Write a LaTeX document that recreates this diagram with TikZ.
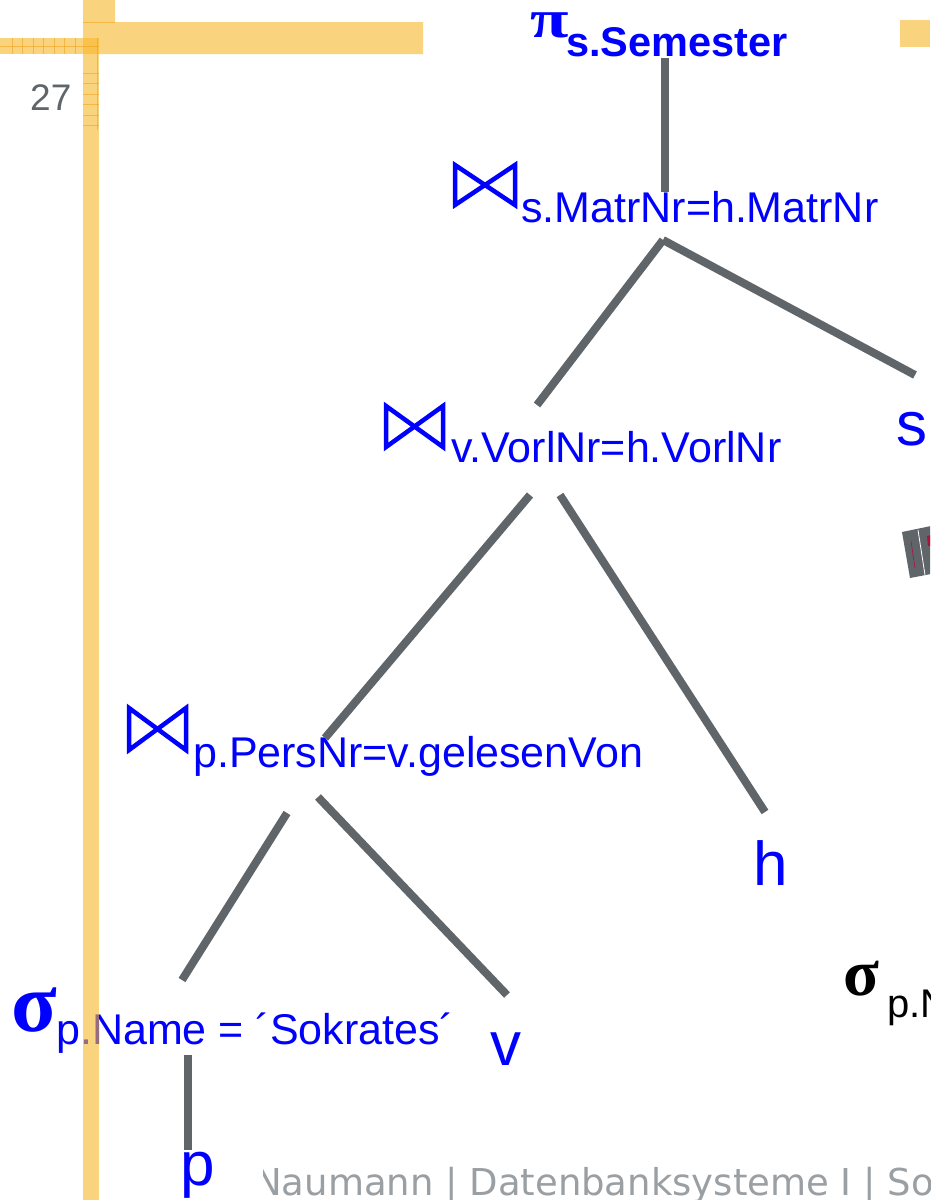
\documentclass[tikz,border=0pt]{standalone}
\usepackage{fontspec}
\setmainfont{Liberation Sans}
\newfontfamily\serifgr{Liberation Serif}
\newfontfamily\footfont{DejaVu Sans}
\definecolor{relblue}{RGB}{0,0,255}
\definecolor{edgegray}{RGB}{95,101,105}
\definecolor{barorange}{RGB}{247,183,43}
\definecolor{gridorange}{RGB}{240,160,20}
\definecolor{footgray}{RGB}{154,159,163}
\definecolor{tilered}{RGB}{170,20,60}
\begin{document}
\begin{tikzpicture}[x=1pt,y=-1pt,
  lbl/.style={inner sep=0pt, anchor=base west, text=relblue},
  sub/.style={lbl, font=\fontsize{43}{50}\selectfont},
  leaf/.style={lbl, font=\fontsize{62}{70}\selectfont},
  edge/.style={draw=edgegray, line width=8pt},
  bowtie/.style={draw=relblue, line width=4.5pt, line join=miter},
  bar/.style={fill=barorange, fill opacity=0.6},
  gridline/.style={draw=gridorange, line width=0.8pt, draw opacity=0.55}]
\useasboundingbox (0,0) rectangle (930,1200);
\clip (0,0) rectangle (930,1200);
\fill[white] (0,0) rectangle (930,1200);

% page number
\node[anchor=base west, inner sep=0pt, text=edgegray, font=\fontsize{37}{40}\selectfont] (pagenum) at (30,110) {27};

% projection
\node[lbl, font=\serifgr\bfseries\fontsize{54}{58}\selectfont] (pi) at (530,37) {\scalebox{1.3}[1]{π}};
\node[lbl, font=\bfseries\fontsize{41.5}{50}\selectfont] (pisub) at (566,56) {s.Semester};

% join 1
\draw[bowtie] (455,165) -- (515,205) -- (515,165) -- (455,205) -- cycle;
\node[sub] (j1) at (521,222) {s.MatrNr=h.MatrNr};
% join 2
\draw[bowtie] (386,406) -- (443,447) -- (443,406) -- (386,447) -- cycle;
\node[sub] (j2) at (451,462) {v.VorlNr=h.VorlNr};
% join 3
\draw[bowtie] (129,708) -- (186,750) -- (186,708) -- (129,750) -- cycle;
\node[sub] (j3) at (193,767) {p.PersNr=v.gelesenVon};

% selection
\node[lbl, font=\serifgr\bfseries\fontsize{84}{90}\selectfont] (sigma) at (11,1031) {σ};
\node[sub] (sel) at (56,1044) {p.Name = ´Sokrates´};

% leaves
\node[leaf] (s) at (896,445) {s};
\node[leaf] (h) at (753,885) {h};
\node[leaf] (v) at (490,1065) {v};
\node[leaf] (p) at (180,1185) {p};

% black sigma at right
\node[lbl, text=black, font=\serifgr\bfseries\fontsize{66}{70}\selectfont] (sigmab) at (843,995) {σ};
\node[lbl, text=black, font=\fontsize{40}{46}\selectfont] (selb) at (887,1017) {p.N};

% connector end points
\coordinate (pibot) at (665,58);
\coordinate (j1top) at (665,192);
\coordinate (j1apex) at (663,240);
\coordinate (j2top) at (537,405);
\coordinate (stop) at (915,375);
\coordinate (j2l) at (530,495);
\coordinate (j3top) at (325,738);
\coordinate (j2r) at (560,495);
\coordinate (htop) at (765,812);
\coordinate (j3l) at (287,813);
\coordinate (selt) at (182,980);
\coordinate (j3r) at (318,797);
\coordinate (vtop) at (507,995);
\coordinate (selb2) at (188,1055);
\coordinate (ptop) at (188,1150);

\draw[edge] (pibot) -- (j1top);
\draw[edge] (j1apex) -- (j2top);
\draw[edge] (j1apex) -- (stop);
\draw[edge] (j2l) -- (j3top);
\draw[edge] (j2r) -- (htop);
\draw[edge] (j3l) -- (selt);
\draw[edge] (j3r) -- (vtop);
\draw[edge] (selb2) -- (ptop);

% gray tile at right
\fill[edgegray] (902,532) -- (931,526) -- (931,574) -- (910,578) -- cycle;
\draw[white, line width=0.8pt] (918,530) -- (925,575);
\draw[tilered, line width=0.6pt] (911,541) -- (915,568);
\fill[tilered] (927,536) -- (931,535) -- (931,546) -- (928,546) -- cycle;

% footer
\begin{scope}
\clip (263,1150) rectangle (930,1200);
\node[anchor=base west, inner sep=0pt, text=footgray, font=\footfont\fontsize{37}{40}\selectfont] (footer) at (254,1195) {Naumann | Datenbanksysteme I | So};
\end{scope}

% orange decoration
\fill[bar] (83,0) -- (115,0) -- (115,22) -- (423,22) -- (423,54) -- (83,54) -- cycle;
\fill[bar] (83,54) rectangle (99,1200);
\fill[bar] (0,38) rectangle (99,54);
\fill[bar] (900,20) rectangle (930,47);
\foreach \gx in {12,22.5,...,80} {\draw[gridline] (\gx,38) -- (\gx,54);}
\foreach \gy in {73,83.5,...,130} {\draw[gridline] (83,\gy) -- (99,\gy);}
\draw[gridline] (97,38) -- (97,130);
\draw[gridline] (0,46) -- (99,46);
\draw[gridline] (83,22) -- (115,22);
\end{tikzpicture}
\end{document}
